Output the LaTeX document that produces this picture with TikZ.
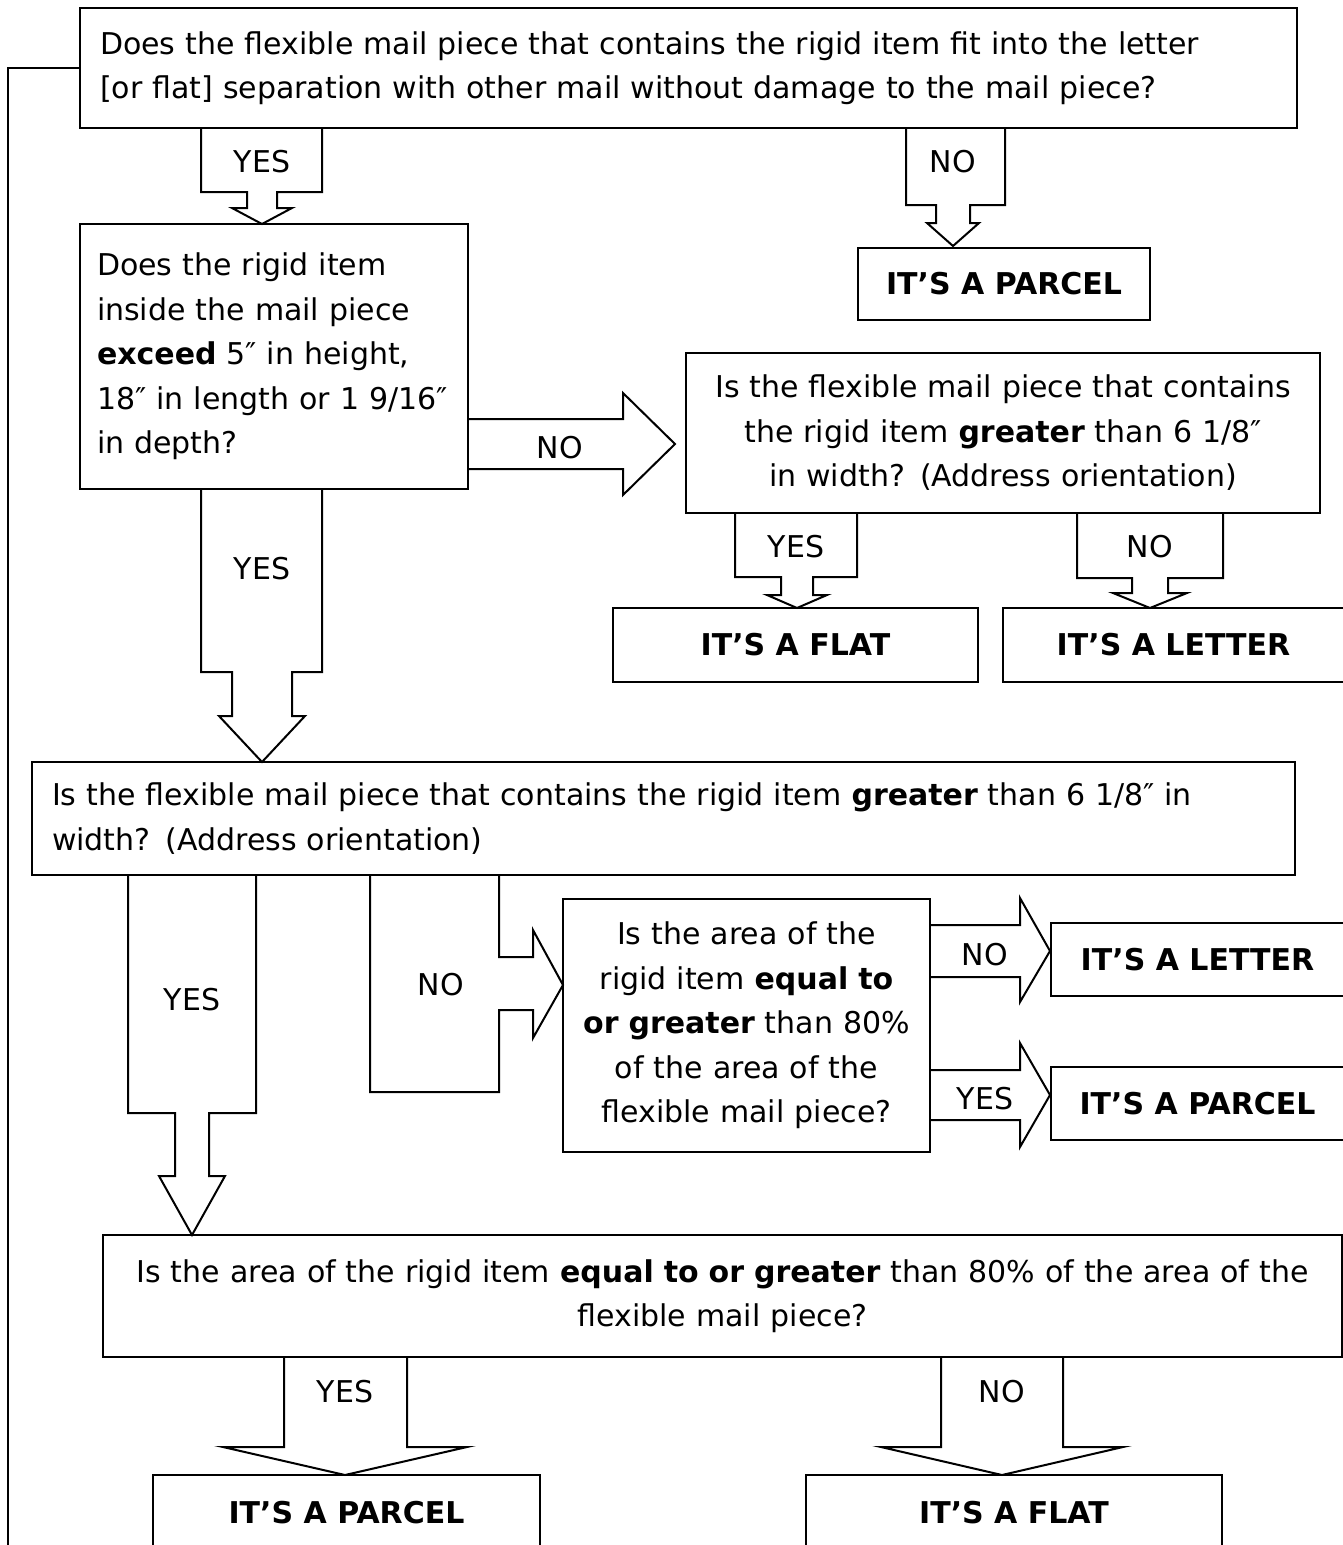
\documentclass[tikz,border=0pt]{standalone}
\usepackage{fontspec}
\setmainfont{DejaVu Sans}
\newcommand{\qfont}{\fontsize{30}{44.5}\selectfont}
% down block arrow: xl, xr, top, neck, centre, neck half, head y, head half, tip
\newcommand{\dnblk}[9]{%
  \draw[blk] (#1,#3) -- (#1,#4) -- ({#5-#6},#4) -- ({#5-#6},#7) -- ({#5-#8},#7)
    -- (#5,#9) -- ({#5+#8},#7) -- ({#5+#6},#7) -- ({#5+#6},#4) -- (#2,#4) -- (#2,#3);}
% right block arrow: x0, x1, shaft top, shaft bottom, head top, head bottom, tip x
\newcommand{\rtblk}[7]{%
  \draw[blk] (#1,#3) -- (#2,#3) -- (#2,#5) -- (#7,{(#3+#4)/2}) -- (#2,#6)
    -- (#2,#4) -- (#1,#4);}
\tikzset{
  qbox/.style={draw, line width=2pt, inner sep=0pt, font=\qfont},
  abox/.style={draw, line width=2pt, inner sep=0pt, font=\qfont\bfseries},
  lbl/.style={inner sep=0pt, font=\qfont},
  blk/.style={line width=2pt, line join=miter},
}
\begin{document}
\begin{tikzpicture}[x=1pt,y=-1pt]
  \useasboundingbox (0,0) rectangle (1342,1545);

  \node[qbox, minimum width=1217pt, minimum height=120pt, text width=1177pt, align=left] (q1) at (688.5,68)
    {Does the flexible mail piece that contains the rigid item fit into the letter\\{}[or flat] separation with other mail without damage to the mail piece?};
  \node[qbox, minimum width=388pt, minimum height=265pt, text width=354pt, align=left] (q2) at (274,356.5)
    {Does the rigid item\\ inside the mail piece\\ \textbf{exceed} 5″ in height,\\ 18″ in length or 1 9/16″\\ in depth?};
  \node[qbox, minimum width=634pt, minimum height=160pt, text width=610pt, align=center] (q3) at (1003,433)
    {Is the flexible mail piece that contains\\ the rigid item \textbf{greater} than 6 1/8″\\ in width? (Address orientation)};
  \node[qbox, minimum width=1263pt, minimum height=113pt, text width=1223pt, align=left] (q4) at (663.5,818.5)
    {Is the flexible mail piece that contains the rigid item \textbf{greater} than 6 1/8″ in\\ width? (Address orientation)};
  \node[qbox, minimum width=367pt, minimum height=253pt, text width=350pt, align=center] (q5) at (746.5,1025.5)
    {Is the area of the\\ rigid item \textbf{equal to}\\ \textbf{or greater} than 80\%\\ of the area of the\\ flexible mail piece?};
  \node[qbox, minimum width=1239pt, minimum height=122pt, text width=1225pt, align=center] (q6) at (722.5,1296)
    {Is the area of the rigid item \textbf{equal to or greater} than 80\% of the area of the\\ flexible mail piece?};

  \node[abox, minimum width=292pt, minimum height=72pt] (parcel1) at (1004,284) {IT'S A PARCEL};
  \node[abox, minimum width=365pt, minimum height=74pt] (flat1) at (795.5,645) {IT'S A FLAT};
  \node[abox, minimum width=341pt, minimum height=74pt] (letter1) at (1173.5,645) {IT'S A LETTER};
  \node[abox, minimum width=293pt, minimum height=73pt] (letter2) at (1197.5,959.5) {IT'S A LETTER};
  \node[abox, minimum width=293pt, minimum height=73pt] (parcel2) at (1197.5,1103.5) {IT'S A PARCEL};
  \node[abox, minimum width=387pt, minimum height=75pt] (parcel3) at (346.5,1512.5) {IT'S A PARCEL};
  \node[abox, minimum width=416pt, minimum height=75pt] (flat2) at (1014,1512.5) {IT'S A FLAT};

  \dnblk{201}{322}{128}{192}{262}{15}{208}{30}{224}
  \dnblk{906}{1005}{128}{205}{953}{17}{223}{26}{246}
  \dnblk{201}{322}{489}{672}{262}{30}{716}{43}{762}
  \dnblk{735}{857}{513}{577}{797}{16}{595}{30}{608}
  \dnblk{1077}{1223}{513}{578}{1150}{18}{593}{37}{608}
  \dnblk{128}{256}{875}{1113}{192}{17}{1176}{33}{1235}
  \dnblk{284}{407}{1357}{1447}{345}{61}{1447}{122}{1475}
  \dnblk{941}{1063}{1357}{1447}{1002}{61}{1447}{121}{1475}
  \rtblk{468}{623}{419}{469}{393}{495}{675}
  \rtblk{930}{1020}{925}{977}{898}{1002}{1050}
  \rtblk{930}{1020}{1070}{1120}{1043}{1147}{1050}
  \draw[blk] (370,875) -- (370,1092) -- (499,1092) -- (499,1010) -- (533,1010) -- (533,1038)
    -- (563,985) -- (533,930) -- (533,957) -- (499,957) -- (499,875);

  \node[lbl] (yes1) at (262,162) {YES};
  \node[lbl] (no1) at (953,162) {NO};
  \node[lbl] (yes2) at (262,569) {YES};
  \node[lbl] (no2) at (560,448) {NO};
  \node[lbl] (yes3) at (796,547) {YES};
  \node[lbl] (no3) at (1150,547) {NO};
  \node[lbl] (yes4) at (192,1000) {YES};
  \node[lbl] (no4) at (441,985) {NO};
  \node[lbl] (no5) at (985,955) {NO};
  \node[lbl] (yes5) at (985,1099) {YES};
  \node[lbl] (yes6) at (345,1392) {YES};
  \node[lbl] (no6) at (1002,1392) {NO};

  \coordinate (loopend) at (8,1550);
  \draw[blk] (q1.west) -| (loopend);
\end{tikzpicture}
\end{document}
